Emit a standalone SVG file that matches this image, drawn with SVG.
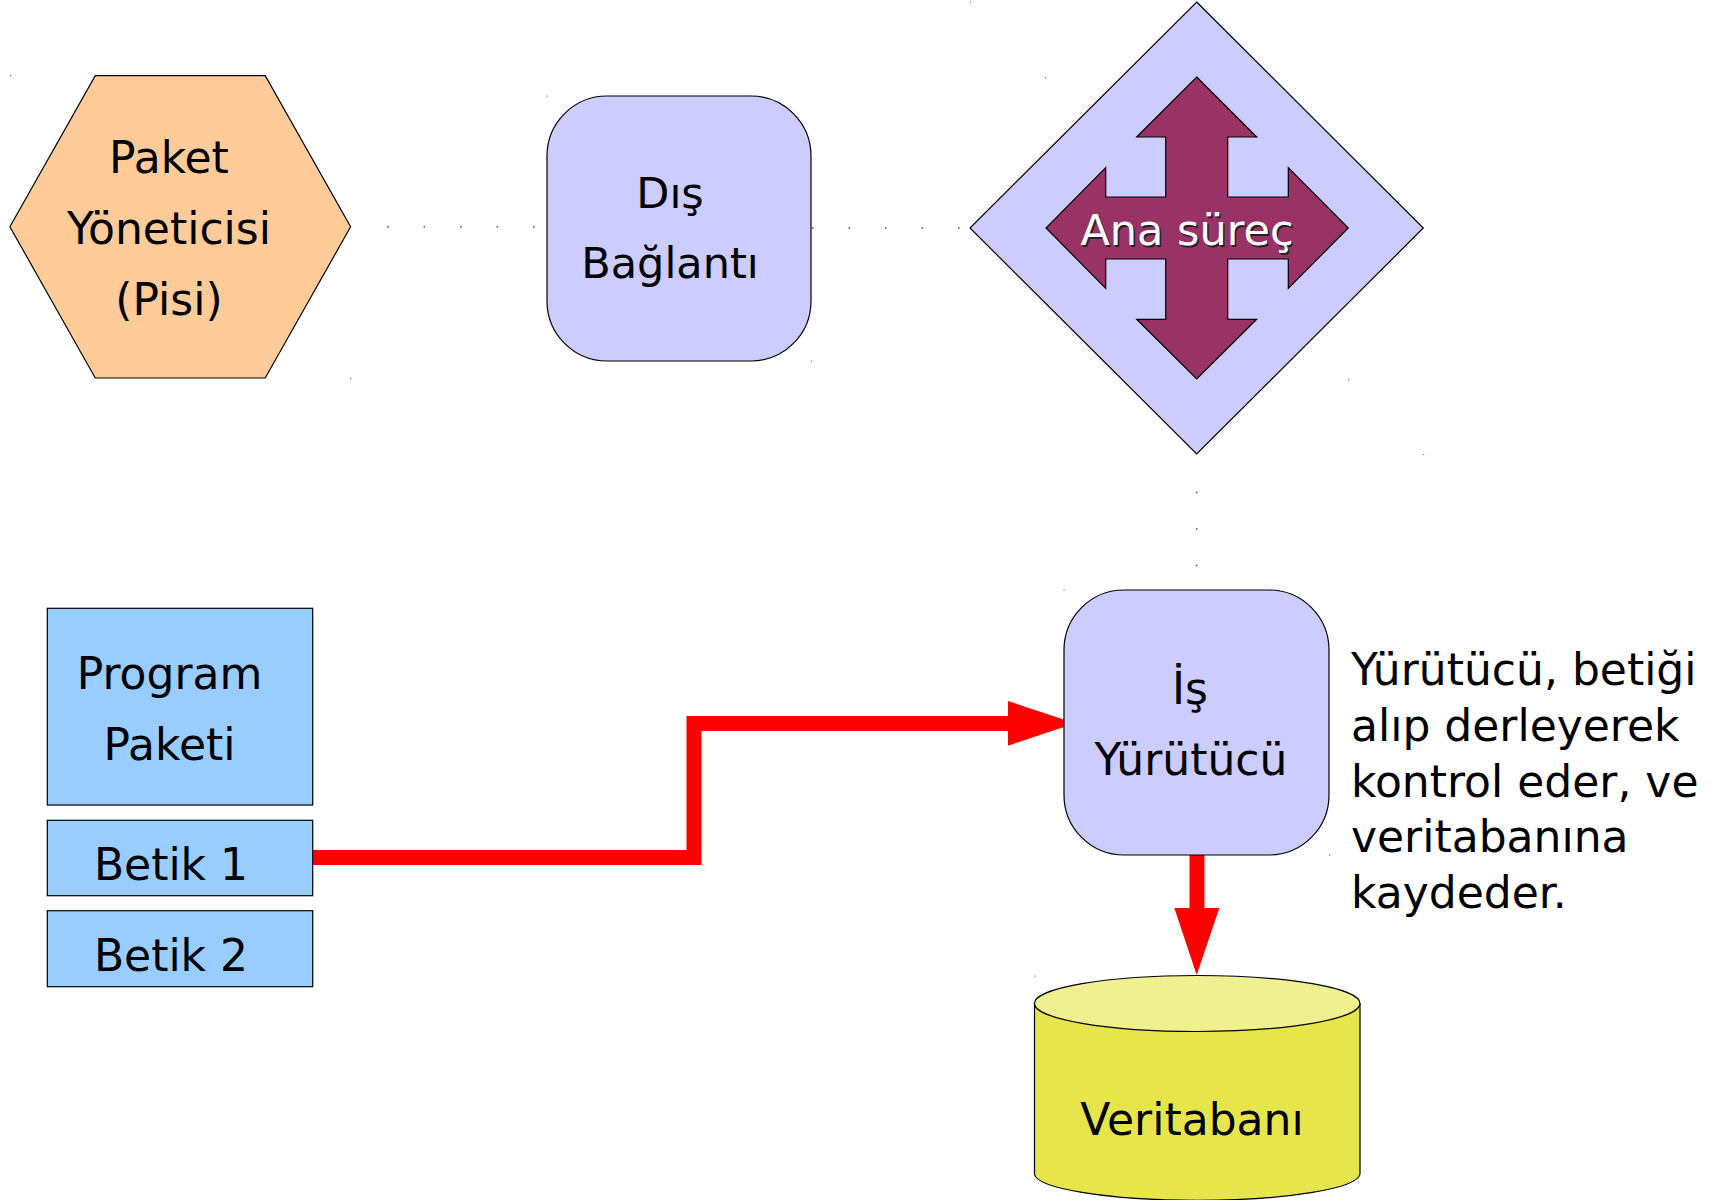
<svg xmlns="http://www.w3.org/2000/svg" width="1718" height="1200" viewBox="0 0 1718 1200">
<style>
  text { font-family: "DejaVu Sans", Verdana, sans-serif; font-size: 44px; fill: #000; }
  .c { text-anchor: middle; }
  .s43 { font-size: 43px; }
  .outline { stroke: #000; stroke-width: 1.2; }
  .lilac { fill: #ccccff; }
  .blue { fill: #99ccff; }
  .dots { fill: none; stroke: #555; stroke-width: 1.6; stroke-dasharray: 1.6 34.9; }
  .red { fill: none; stroke: #ff0000; stroke-width: 15; stroke-linejoin: miter; }
  .redhead { fill: #ff0000; stroke: none; }
  .mark { fill: #777; }
</style>

<g id="connectors">
  <path class="dots" d="M387 226.8 H535"/>
  <path class="dots" d="M812 228 H968"/>
  <path class="dots" d="M1196.7 491.7 V570"/>
  <path class="red" d="M313 857.5 H694 V723.5 H1010"/>
  <polygon class="redhead" points="1008,701 1075,723.3 1008,745.7"/>
  <path class="red" d="M1197 855 V910"/>
  <polygon class="redhead" points="1174.3,908 1219.3,908 1196.7,975"/>
</g>

<g id="paket-yoneticisi">
  <polygon class="outline" fill="#ffcc99" points="9.9,226.8 95.3,75.6 265.2,75.6 350.6,226.8 265.2,378 95.3,378"/>
  <text class="c" x="169" y="173">Paket</text>
  <text class="c" x="169" y="244">Yöneticisi</text>
  <text class="c" x="169" y="315">(Pisi)</text>
</g>

<g id="dis-baglanti">
  <rect class="outline lilac" x="547" y="96" width="264" height="265" rx="60" ry="60"/>
  <text class="c s43" x="670" y="208">Dış</text>
  <text class="c s43" x="670" y="278">Bağlantı</text>
</g>

<g id="ana-surec">
  <polygon class="outline lilac" points="1196.7,2 1423.3,228 1196.7,454 970,228"/>
  <polygon class="outline" fill="#993366" points="1196.7,77 1256.7,137 1227.7,137 1227.7,197 1288.3,197 1288.3,167.7 1348.3,228 1288.3,288.3 1288.3,259 1227.7,259 1227.7,319.3 1256.7,319.3 1196.7,379 1136.7,319.3 1165.7,319.3 1165.7,259 1105.7,259 1105.7,288.3 1046,228 1105.7,167.7 1105.7,197 1165.7,197 1165.7,137 1136.7,137"/>
  <text class="c s43" x="1188.5" y="246.5" style="fill:#222">Ana süreç</text>
  <text class="c s43" x="1187" y="245" style="fill:#fff">Ana süreç</text>
</g>

<g id="is-yurutucu">
  <rect class="outline lilac" x="1064" y="590" width="265" height="265" rx="60" ry="60"/>
  <text class="c" x="1190" y="704">İş</text>
  <text class="c" x="1191" y="775">Yürütücü</text>
</g>

<g id="aciklama">
  <text x="1351" y="685">Yürütücü, betiği</text>
  <text x="1351" y="741">alıp derleyerek</text>
  <text x="1351" y="797">kontrol eder, ve</text>
  <text x="1351" y="852">veritabanına</text>
  <text x="1351" y="908">kaydeder.</text>
</g>

<g id="program-paketi">
  <rect class="outline blue" x="47.3" y="608.3" width="265.4" height="196.7"/>
  <text class="c" x="169.5" y="689">Program</text>
  <text class="c" x="169.5" y="760">Paketi</text>
</g>

<g id="betik-1">
  <rect class="outline blue" x="47.3" y="820.3" width="265.4" height="75.4"/>
  <text class="c" x="171" y="880">Betik 1</text>
</g>

<g id="betik-2">
  <rect class="outline blue" x="47.3" y="910.7" width="265.4" height="76"/>
  <text class="c" x="171" y="970.7">Betik 2</text>
</g>

<g id="veritabani">
  <path class="outline" fill="#e6e64c" d="M1034.5 1003.5 V1174 A162.8 27 0 0 0 1360 1174 V1003.5 Z"/>
  <ellipse class="outline" fill="#f0f090" cx="1197.2" cy="1003.5" rx="162.8" ry="28"/>
  <text class="c" x="1192" y="1135">Veritabanı</text>
</g>

<g id="marks">
  <rect class="mark" x="10" y="75" width="1.2" height="1.2"/>
  <rect class="mark" x="350" y="378" width="1.2" height="1.2"/>
  <rect class="mark" x="546.5" y="95.5" width="1.2" height="1.2"/>
  <rect class="mark" x="811" y="360.5" width="1.2" height="1.2"/>
  <rect class="mark" x="970" y="1.5" width="1.2" height="1.2"/>
  <rect class="mark" x="1045" y="77" width="1.2" height="1.2"/>
  <rect class="mark" x="1348" y="379" width="1.2" height="1.2"/>
  <rect class="mark" x="1423" y="454" width="1.2" height="1.2"/>
  <rect class="mark" x="1063.5" y="589.5" width="1.2" height="1.2"/>
  <rect class="mark" x="1329" y="854.5" width="1.2" height="1.2"/>
  <rect class="mark" x="1034.5" y="975.5" width="1.2" height="1.2"/>
</g>
</svg>
